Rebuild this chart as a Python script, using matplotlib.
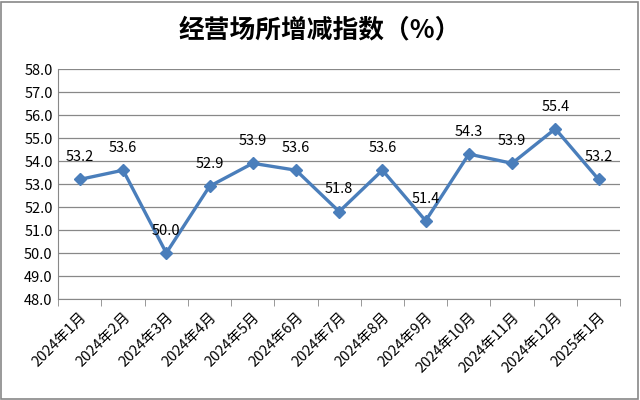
import matplotlib.pyplot as plt
import numpy as np

plt.rcParams['font.family'] = ['Noto Sans CJK SC', 'DejaVu Sans']

months = ['2024年1月', '2024年2月', '2024年3月', '2024年4月', '2024年5月', '2024年6月',
          '2024年7月', '2024年8月', '2024年9月', '2024年10月', '2024年11月', '2024年12月',
          '2025年1月']
values = [53.2, 53.6, 50.0, 52.9, 53.9, 53.6, 51.8, 53.6, 51.4, 54.3, 53.9, 55.4, 53.2]

fig = plt.figure(figsize=(6.4, 4.0), dpi=100)
ax = fig.add_axes([0.091, 0.2525, 0.878, 0.575])

x = np.arange(len(months))
ax.plot(x, values, color='#4A7EBB', linewidth=2.4, marker='D', markersize=6.5)
for xi, v in zip(x, values):
    ax.annotate('%.1f' % v, (xi, v), xytext=(0, 11), textcoords='offset points',
                ha='center', va='bottom', fontsize=10.5)

ax.set_xlim(-0.5, len(months) - 0.5)
ax.set_ylim(48, 58)
ax.set_yticks(np.arange(48, 58.1, 1))
ax.set_yticklabels(['%.1f' % t for t in np.arange(48, 58.1, 1)], fontsize=10.5)
ax.yaxis.grid(True, color='#888888', linewidth=0.9)
ax.set_axisbelow(True)
ax.tick_params(axis='y', length=0, pad=4)

ax.set_xticks(x)
ax.set_xticklabels(months, rotation=45, ha='right', rotation_mode='anchor', fontsize=10.5)
ax.set_xticks(np.arange(-0.5, len(months)), minor=True)
ax.tick_params(axis='x', which='major', length=0, pad=8)
ax.tick_params(axis='x', which='minor', length=5, color='#888888')

for s in ['top', 'right']:
    ax.spines[s].set_visible(False)
for s in ['left', 'bottom']:
    ax.spines[s].set_color('#888888')

fig.text(0.5, 0.925, '经营场所增减指数（%）', ha='center', va='center', fontsize=18.5, fontweight='bold')
fig.patches.append(plt.Rectangle((0.002, 0.003), 0.995, 0.993, transform=fig.transFigure,
                                 fill=False, edgecolor='#888888', linewidth=1.2))

plt.savefig('out.png')
